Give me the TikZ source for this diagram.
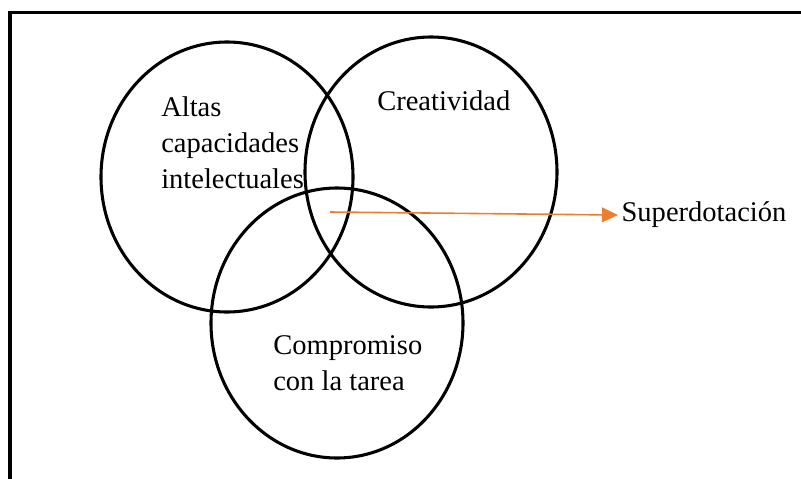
\documentclass[tikz,border=0pt]{standalone}
\usepackage{fontspec}
\setmainfont{Liberation Serif}
\usetikzlibrary{arrows.meta,shapes.geometric}
\definecolor{wordorange}{RGB}{237,125,49}
\begin{document}
\begin{tikzpicture}[x=0.75pt,y=-0.75pt,
  venn/.style={draw=black,line width=2.3pt,ellipse,inner sep=0pt,outer sep=0pt,
    minimum width=189pt,minimum height=202.5pt},
  lbl/.style={font=\fontsize{21.4}{27}\selectfont,inner sep=0pt,align=left},
  orangearrow/.style={draw=wordorange,line width=1.2pt,
    -{Triangle[length=12pt,width=11pt]}}]
\useasboundingbox (0,0) rectangle (801,479);
% frame
\draw[line width=2.3pt,black] (10,479) -- (10,12.5) -- (801,12.5);
% circles
\node[venn] (c1) at (227,177) {};
\node[venn] (c2) at (431,172) {};
\node[venn] (c3) at (337,323) {};
% labels (base anchor = baseline of the last line)
\node[lbl,anchor=base west] (altas) at (161,188) {Altas\\capacidades\\intelectuales};
\node[lbl,anchor=base west] (crea) at (377,110) {Creatividad};
\node[lbl,anchor=base west] (comp) at (273,390) {Compromiso\\con la tarea};
\node[lbl,anchor=west,inner xsep=2.5pt] (sup) at (618,215) {Superdotación};
\coordinate (start) at (330,212);
\draw[orangearrow] (start) -- (sup.west);
\end{tikzpicture}
\end{document}
